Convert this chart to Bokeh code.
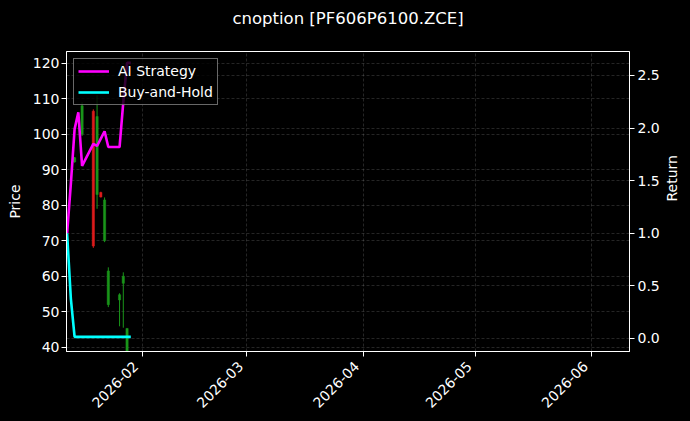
import math
import pandas as pd
from bokeh.plotting import figure
from bokeh.models import (Range1d, LinearAxis, SingleIntervalTicker, MonthsTicker,
                          DatetimeTickFormatter, PrintfTickFormatter, Grid,
                          Legend, LegendItem, ColumnDataSource, Title)
from bokeh.embed import file_html
from bokeh.resources import INLINE

# ---------------- data ----------------
title_text = "cnoption [PF606P6100.ZCE]"

candle_dates = ["2026-01-14", "2026-01-16", "2026-01-19", "2026-01-20", "2026-01-21",
                "2026-01-22", "2026-01-23", "2026-01-26", "2026-01-27", "2026-01-28"]
opens  = [92.2, 100.0, 106.5, 83.0, 83.6, 70.0, 52.0, 53.3, 58.0, 38.5]
highs  = [93.6, 109.0, 107.0, 111.0, 83.8, 82.2, 62.5, 55.2, 61.1, 45.3]
lows   = [92.0, 99.5, 68.0, 79.0, 82.2, 69.6, 51.3, 45.9, 45.5, 38.0]
closes = [93.4, 108.0, 68.5, 105.0, 82.3, 81.5, 61.5, 54.8, 60.0, 45.3]

line_dates = ["2026-01-12", "2026-01-13", "2026-01-14", "2026-01-15", "2026-01-16",
              "2026-01-19", "2026-01-20", "2026-01-21", "2026-01-22", "2026-01-23",
              "2026-01-26", "2026-01-27", "2026-01-28", "2026-01-29"]
strategy_ret = [1.0, 1.47, 1.99, 2.15, 1.64, 1.85, 1.83, 1.90, 1.97, 1.82,
                1.82, 2.25, 2.62, 2.62]
buyhold_ret = [1.0, 0.38, 0.015, 0.015, 0.015, 0.015, 0.015, 0.015, 0.015, 0.015,
               0.015, 0.015, 0.015, 0.015]

price_tick_step = 10
return_tick_step = 0.5
x_start = "2026-01-11 20:10"
x_end = "2026-06-11 02:00"
price_lim = (38.8, 123.3)
return_lim = (-0.1236, 2.728)

# ---------------- build ----------------
FONT = "DejaVu Sans"
UP = "#1a951a"
DOWN = "#dd1c1c"
NBSP = "\u00a0"

cd = pd.to_datetime(candle_dates)
src = ColumnDataSource(dict(
    date=cd,
    open=opens, high=highs, low=lows, close=closes,
    top=[max(o, c) for o, c in zip(opens, closes)],
    bottom=[min(o, c) for o, c in zip(opens, closes)],
    color=[UP if c >= o else DOWN for o, c in zip(opens, closes)],
))
lsrc = ColumnDataSource(dict(date=pd.to_datetime(line_dates),
                             strat=strategy_ret, bh=buyhold_ret))

xs = pd.Timestamp(x_start)
xe = pd.Timestamp(x_end)

p = figure(width=690, height=421, x_axis_type="datetime",
           output_backend="svg", toolbar_location=None,
           x_range=Range1d(start=xs, end=xe),
           y_range=Range1d(*price_lim),
           background_fill_color="black", border_fill_color="black",
           min_border_left=66, min_border_right=61,
           min_border_top=51, min_border_bottom=70)
p.outline_line_color = "white"
p.outline_line_width = 1

# spacer between frame and title, so the title sits higher
p.add_layout(Title(text=" ", text_font_size="1px", standoff=21), "above")

p.title.text = title_text
p.title.align = "center"
p.title.vertical_align = "bottom"
p.title.text_color = "white"
p.title.text_font = FONT
p.title.text_font_size = "16.5px"
p.title.text_font_style = "normal"
p.title.standoff = 0

p.extra_y_ranges = {"ret": Range1d(*return_lim)}

xax = p.below[0]
lax = p.left[0]

# axes
fmt = "%Y-%m" + NBSP + NBSP
xax.ticker = MonthsTicker(months=list(range(12)))
xax.formatter = DatetimeTickFormatter(months=fmt, days=fmt, years=fmt)
xax.major_label_orientation = math.pi / 4
lax.ticker = SingleIntervalTicker(interval=price_tick_step, num_minor_ticks=0)

right_ticker = SingleIntervalTicker(interval=return_tick_step, num_minor_ticks=0)
rax = LinearAxis(y_range_name="ret", ticker=right_ticker,
                 formatter=PrintfTickFormatter(format="%.1f"))
p.add_layout(rax, "right")

for ax in [xax, lax, rax]:
    ax.axis_line_color = "white"
    ax.major_tick_line_color = "white"
    ax.major_tick_out = 5
    ax.major_tick_in = 0
    ax.minor_tick_line_color = None
    ax.major_label_text_color = "white"
    ax.major_label_text_font = FONT
    ax.major_label_text_font_size = "14px"
    ax.axis_label_text_color = "white"
    ax.axis_label_text_font = FONT
    ax.axis_label_text_font_size = "14px"
    ax.axis_label_text_font_style = "normal"
lax.major_label_standoff = 2
rax.major_label_standoff = 3
xax.major_label_standoff = 1

lax.axis_label = "Price"
lax.axis_label_standoff = 7

rax.axis_label = "Return"
rax.axis_label_standoff = 9
rax.axis_label_orientation = -3 * math.pi / 2

# grids
for g in [p.xgrid[0], p.ygrid[0]]:
    g.grid_line_color = "#8a8a8a"
    g.grid_line_alpha = 0.45
    g.grid_line_dash = "3 2"
    g.grid_line_width = 0.6
rgrid = Grid(dimension=1, ticker=right_ticker, y_range_name="ret",
             grid_line_color="#8a8a8a", grid_line_alpha=0.45,
             grid_line_dash="3 2", grid_line_width=0.6)
p.add_layout(rgrid)

# candles
p.segment(x0="date", y0="low", x1="date", y1="high", color="color",
          line_width=1, source=src)
p.vbar(x="date", width=0.6 * 86400000, top="top", bottom="bottom",
       fill_color="color", line_color="color", line_width=0.5, source=src)

# return lines
r1 = p.line(x="date", y="strat", source=lsrc, y_range_name="ret",
            line_color="#ff00ff", line_width=2.6)
r2 = p.line(x="date", y="bh", source=lsrc, y_range_name="ret",
            line_color="#00ffff", line_width=2.6)

legend = Legend(items=[LegendItem(label="AI Strategy", renderers=[r1]),
                       LegendItem(label="Buy-and-Hold", renderers=[r2])],
                location="top_left")
legend.margin = 7
legend.padding = 4
legend.spacing = 5
legend.glyph_width = 31
legend.glyph_height = 16
legend.label_height = 16
legend.label_standoff = 9
legend.background_fill_color = "black"
legend.background_fill_alpha = 0.8
legend.border_line_color = "#d0d0d0"
legend.border_line_width = 1
legend.label_text_color = "white"
legend.label_text_font = FONT
legend.label_text_font_size = "14px"
p.add_layout(legend)

html = file_html(p, INLINE)
html = html.replace("</head>", "<style>html, body {background: #000000;}</style></head>", 1)
open("out.html", "w").write(html)
